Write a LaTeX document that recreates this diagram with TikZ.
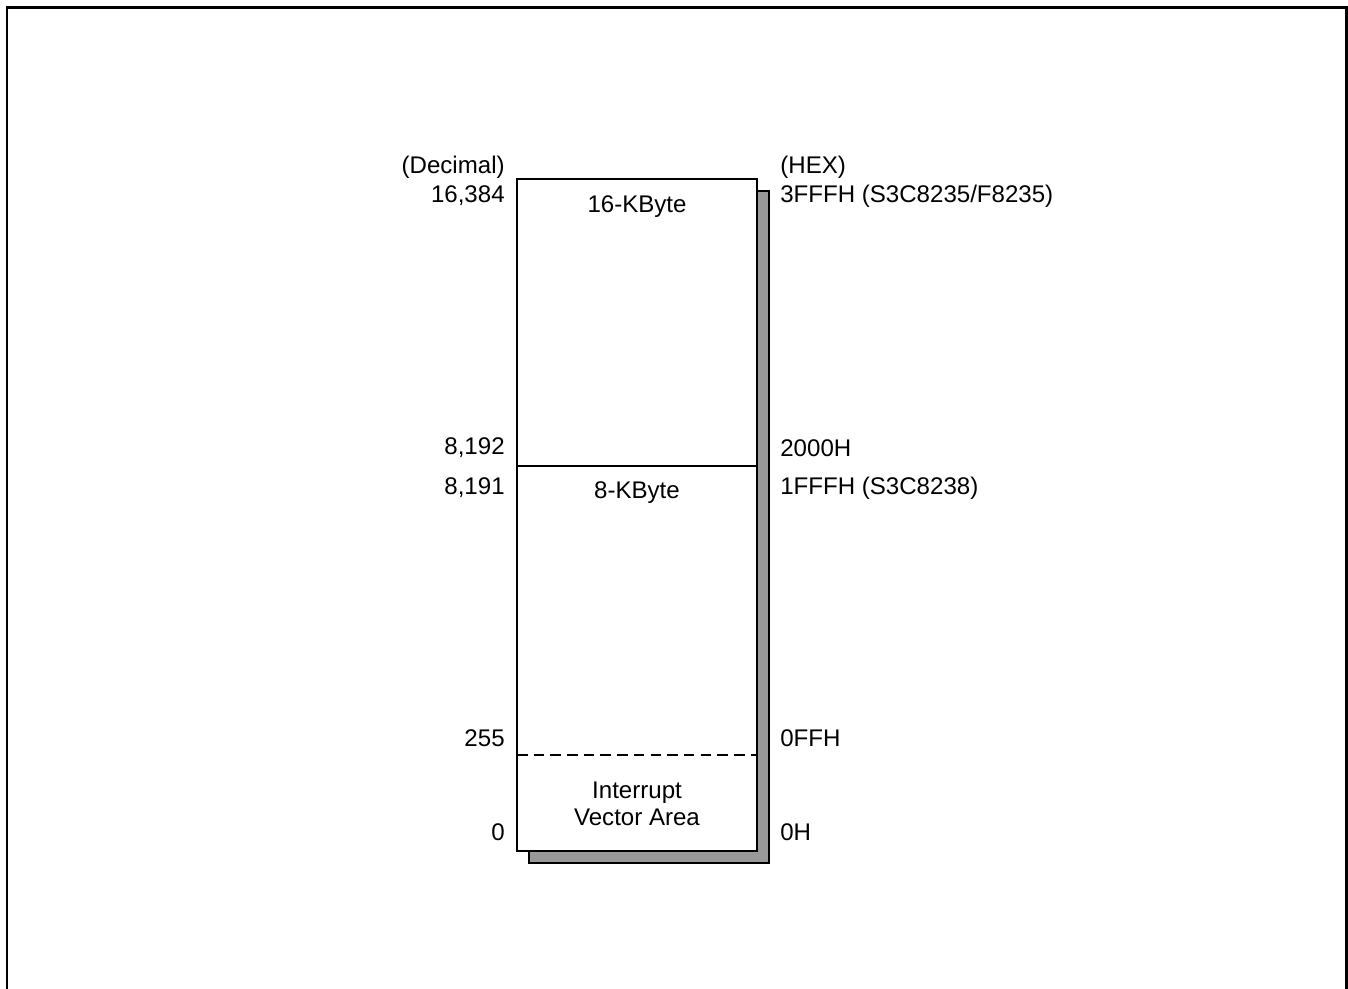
\documentclass[tikz,border=0pt]{standalone}
\usepackage{fontspec}
\setmainfont{Liberation Sans}
\usepackage{tikz}
\usetikzlibrary{positioning,calc}

\begin{document}
\begin{tikzpicture}[
  x=0.02cm, y=-0.02cm,
  addrleft/.style={anchor=east, font=\fontsize{13.7}{15.5}\selectfont, inner sep=0pt},
  addrright/.style={anchor=west, font=\fontsize{13.7}{15.5}\selectfont, inner sep=0pt},
  areatext/.style={font=\fontsize{13.7}{15.5}\selectfont, align=center, inner sep=0pt},
  shadow/.style={fill=black!40, draw=black, line width=0.9pt},
  mapbox/.style={fill=white, draw=black, line width=0.9pt}
]
\useasboundingbox (0,0) rectangle (1348,989);
% Outer frame (open at the bottom)
\draw[line width=1.7pt] (7,989) -- (7,7.5) -- (1346.5,7.5) -- (1346.5,989);

% Memory block with its shadow
\coordinate (tl) at (517,179);
\coordinate (br) at (757,851);
\filldraw[shadow] ($(tl)+(12,12)$) rectangle ($(br)+(12,12)$);
\filldraw[mapbox] (tl) rectangle (br);
\draw[line width=0.9pt] (517,466) -- (757,466);
\draw[line width=0.7pt, dash pattern=on 6pt off 3.5pt] (517,755) -- (757,755);

% Area names
\node[areatext] (k16) at (637,207) {16-KByte};
\node[areatext] (k8) at (637,493) {8-KByte};
\node[areatext] (iva) at (637,804) {Interrupt\\Vector Area};

% Decimal addresses
\node[addrleft] (dec) at (505,167) {(Decimal)};
\node[addrleft] (d16384) at (505,196) {16,384};
\node[addrleft] (d8192) at (505,448) {8,192};
\node[addrleft] (d8191) at (505,488) {8,191};
\node[addrleft] (d255) at (505,738) {255};
\node[addrleft] (d0) at (505,832) {0};

% Hex addresses
\node[addrright] (hex) at (780,167) {(HEX)};
\node[addrright] (h3fff) at (780,196) {3FFFH (S3C8235/F8235)};
\node[addrright] (h2000) at (780,448) {2000H};
\node[addrright] (h1fff) at (780,488) {1FFFH (S3C8238)};
\node[addrright] (h0ff) at (780,738) {0FFH};
\node[addrright] (h0) at (780,832) {0H};
\end{tikzpicture}
\end{document}
